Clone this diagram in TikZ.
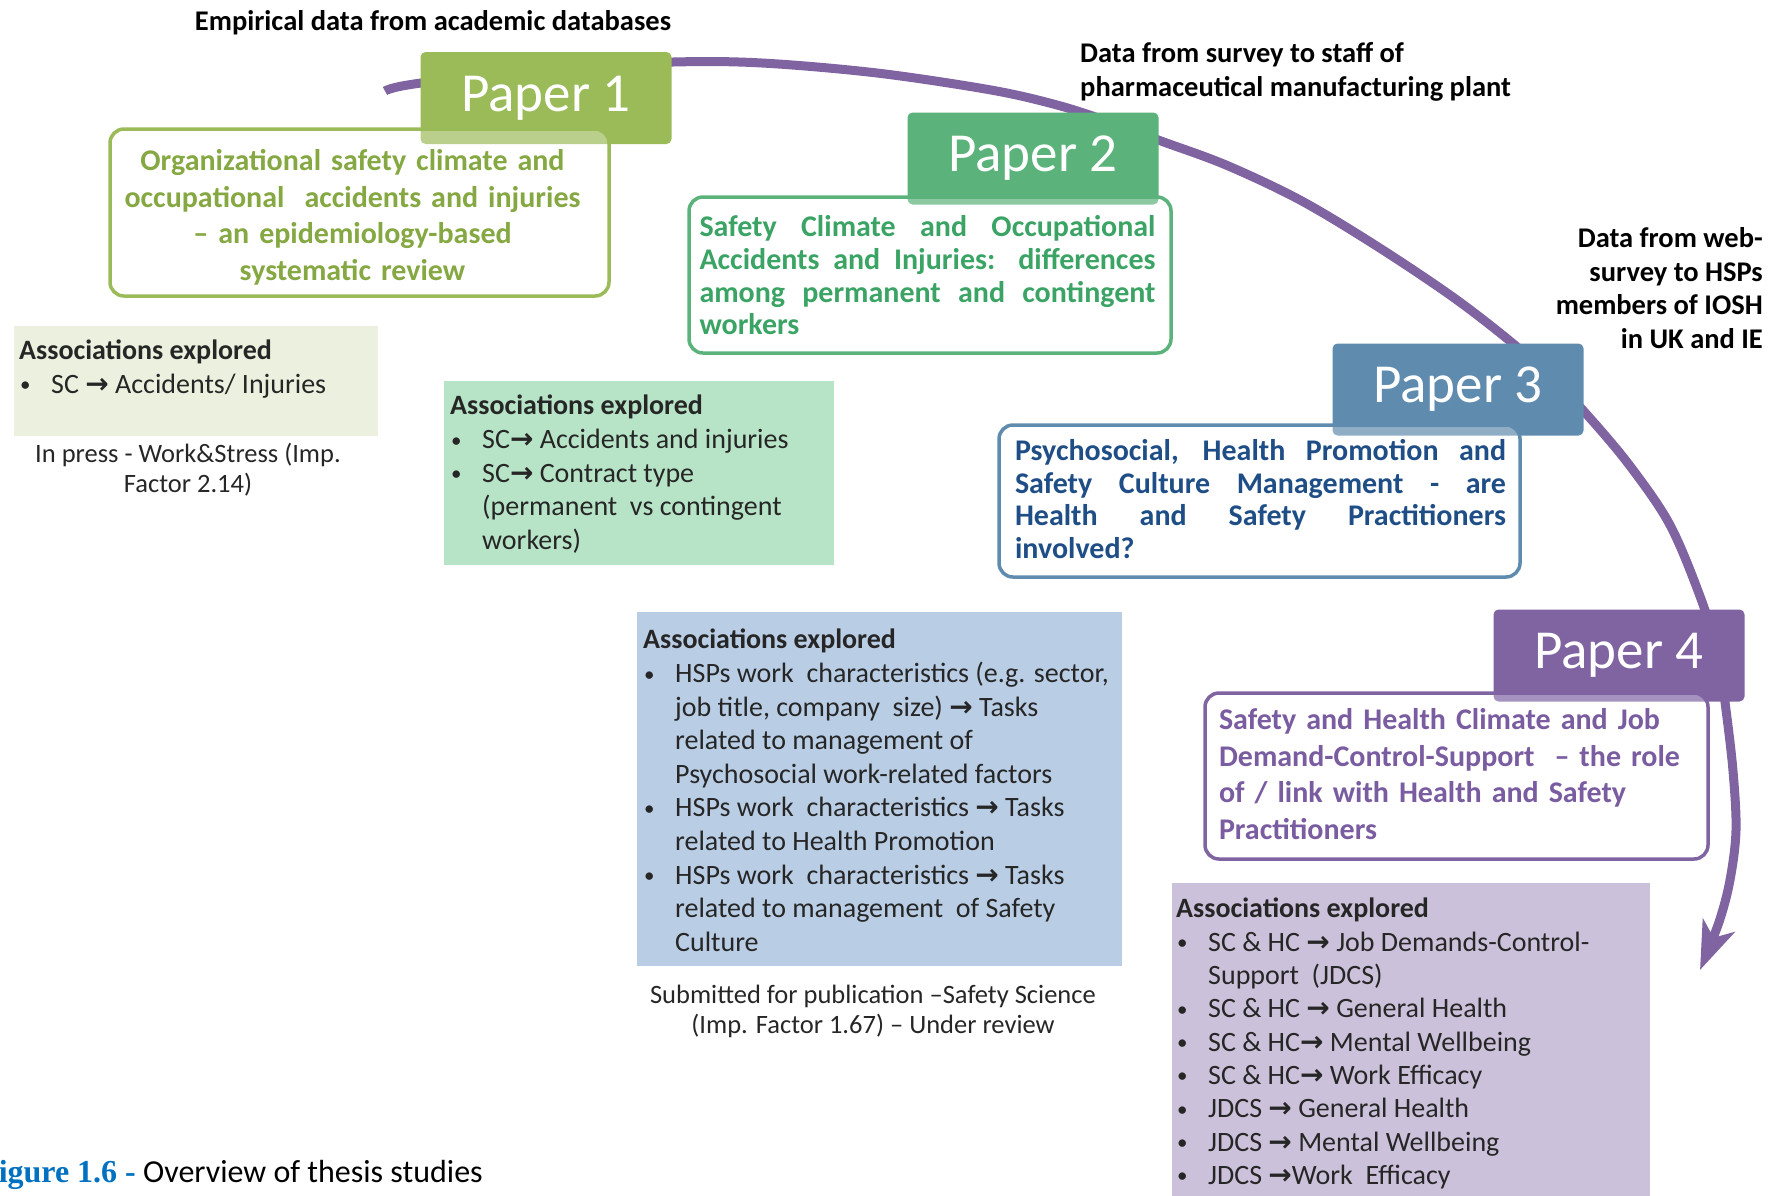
\documentclass[tikz,border=0pt]{standalone}
\usepackage{fontspec}
\setmainfont{Carlito}
\newfontfamily\arrowfont{DejaVu Sans}
\newfontfamily\capfont{Liberation Serif}
\usetikzlibrary{arrows.meta,positioning}

\definecolor{pone}{HTML}{9BBB59}
\definecolor{ponetext}{HTML}{86A843}
\definecolor{ptwo}{HTML}{5BB37B}
\definecolor{ptwotext}{HTML}{3BA465}
\definecolor{pthree}{HTML}{5F8CAE}
\definecolor{pthreetext}{HTML}{1F4E86}
\definecolor{pfour}{HTML}{8064A2}
\definecolor{pfourtext}{HTML}{7A5CA0}
\definecolor{aone}{HTML}{EBF1DE}
\definecolor{atwo}{HTML}{B7E4C7}
\definecolor{athree}{HTML}{B9CDE5}
\definecolor{afour}{HTML}{CCC1DA}
\definecolor{capblue}{HTML}{0070C0}
\definecolor{bodygray}{HTML}{262626}

\newcommand{\goesto}{{\arrowfont\bfseries →}}
\newcommand{\bitem}[1]{\makebox[32pt][l]{\hspace{1pt}\raisebox{1.5pt}{\fontsize{21}{21}\selectfont\textbullet}}#1}
\newcommand{\bcont}[1]{\hspace*{32pt}#1}

\tikzset{
	paperbox/.style={fill=#1, text=white, rounded corners=5pt, minimum width=251pt, minimum height=92pt, inner sep=0pt, font=\fontsize{55}{60}\selectfont},
	titlebox/.style={draw=#1, line width=3.5pt, rounded corners=14pt, fill=white, fill opacity=0.3, inner sep=0pt},
	titletext/.style={inner sep=0pt, font=\fontsize{30}{32.7}\selectfont\bfseries},
	assocbox/.style={fill=#1, inner sep=0pt},
	listtext/.style={anchor=north west, inner sep=0pt, align=left, text=bodygray, font=\fontsize{28}{33.6}\selectfont},
	sourcetext/.style={inner sep=0pt, align=center, text=bodygray, font=\fontsize{26.5}{30}\selectfont},
	datatext/.style={inner sep=0pt, font=\fontsize{28.5}{33.4}\selectfont\bfseries},
	cyclearrow/.style={line width=9pt, color=pfour, -{Stealth[length=48pt,width=34pt,inset=13pt]}}
}

\begin{document}
\begin{tikzpicture}[x=1pt,y=-1pt]
	\useasboundingbox (0,0) rectangle (1776,1195);
	
	% the cycle, behind the boxes
	\draw[cyclearrow] plot[smooth, tension=0.55] coordinates {(385,91) (414,84) (545,68) (673,62) (762,63) (877,73) (991,90) (1057,105) (1110,122) (1161,141) (1226,165) (1300,200) (1375,245) (1450,295) (1505,337) (1550,376) (1589,417) (1630,466) (1670,525) (1701,599) (1718,655) (1726,710) (1733,771) (1736,830) (1730,880) (1719,922) (1700,970)};
	
	\node[paperbox=pone] (p1) at (546,98) {Paper 1};
	\node[paperbox=ptwo] (p2) at (1033,158.5) {Paper 2};
	\node[paperbox=pthree] (p3) at (1458,389.5) {Paper 3};
	\node[paperbox=pfour] (p4) at (1619,655.5) {Paper 4};
	
	\node[titlebox=pone, minimum width=499pt, minimum height=167pt] (t1) at (359.5,212.5) {};
	\node[titlebox=ptwo, minimum width=482pt, minimum height=156pt] (t2) at (930,275) {};
	\node[titlebox=pthree, minimum width=521pt, minimum height=152pt] (t3) at (1259.5,501) {};
	\node[titlebox=pfour, minimum width=503pt, minimum height=166pt] (t4) at (1456.5,776) {};
	
	\node[titletext, text=ponetext, text width=475pt, align=center, font=\fontsize{30}{36.5}\selectfont\bfseries] (t1text) at (352.5,217.5) {Organizational safety climate and\\ occupational\ \ accidents and injuries\\ -- an epidemiology-based\\ systematic review};
	\node[titletext, text=ptwotext, text width=456pt, align=justify] (t2text) at (927.5,275.5) {Safety Climate and Occupational\linebreak Accidents and Injuries: differences\linebreak among permanent and contingent\linebreak workers};
	\node[titletext, text=pthreetext, text width=491pt, align=justify] (t3text) at (1260.5,499) {Psychosocial, Health Promotion and\linebreak Safety Culture Management - are\linebreak Health and Safety Practitioners\linebreak involved?};
	\node[titletext, text=pfourtext, text width=475pt, align=left, font=\fontsize{30}{36.4}\selectfont\bfseries] (t4text) at (1456.5,774) {Safety and Health Climate and Job\\ Demand-Control-Support\ \ -- the role\\ of / link with Health and Safety\\ Practitioners};
	
	\node[assocbox=aone, minimum width=364pt, minimum height=110pt] (a1) at (196,381) {};
	\node[assocbox=atwo, minimum width=390pt, minimum height=184pt] (a2) at (639,473) {};
	\node[assocbox=athree, minimum width=485pt, minimum height=354pt] (a3) at (879.5,789) {};
	\node[assocbox=afour, minimum width=478pt, minimum height=317pt] (a4) at (1411,1041.5) {};
	
	\node[listtext] (l1) at (19,340) {\textbf{Associations explored}\\
		\bitem{SC \goesto{} Accidents/ Injuries}};
	\node[listtext] (l2) at (450,395) {\textbf{Associations explored}\\
		\bitem{SC\goesto{} Accidents and injuries}\\
		\bitem{SC\goesto{} Contract type}\\
		\bcont{(permanent\ \ vs contingent}\\
		\bcont{workers)}};
	\node[listtext] (l3) at (643,629) {\textbf{Associations explored}\\
		\bitem{HSPs work\ \ characteristics (e.g. sector,}\\
		\bcont{job title, company\ \ size) \goesto{} Tasks}\\
		\bcont{related to management of}\\
		\bcont{Psychosocial work-related factors}\\
		\bitem{HSPs work\ \ characteristics \goesto{} Tasks}\\
		\bcont{related to Health Promotion}\\
		\bitem{HSPs work\ \ characteristics \goesto{} Tasks}\\
		\bcont{related to management\ \ of Safety}\\
		\bcont{Culture}};
	\node[listtext, font=\fontsize{28}{33.3}\selectfont] (l4) at (1176,898) {\textbf{Associations explored}\\
		\bitem{SC \& HC \goesto{} Job Demands-Control-}\\
		\bcont{Support\ \ (JDCS)}\\
		\bitem{SC \& HC \goesto{} General Health}\\
		\bitem{SC \& HC\goesto{} Mental Wellbeing}\\
		\bitem{SC \& HC\goesto{} Work Efficacy}\\
		\bitem{JDCS \goesto{} General Health}\\
		\bitem{JDCS \goesto{} Mental Wellbeing}\\
		\bitem{JDCS \goesto{}Work\ \ Efficacy}};
	
	\node[sourcetext] (s1) at (188,470) {In press - Work\&Stress (Imp.\\ Factor 2.14)};
	\node[sourcetext] (s3) at (873,1011) {Submitted for publication --Safety Science\\ (Imp. Factor 1.67) -- Under review};
	
	\node[datatext] (d1) at (433,23) {Empirical data from academic databases};
	\node[datatext, anchor=west, align=left] (d2) at (1080,72) {Data from survey to staff of\\ pharmaceutical manufacturing plant};
	\node[datatext, anchor=east, align=right] (d3) at (1763,288) {Data from web-\\ survey to HSPs\\ members of IOSH\\ in UK and IE};
	
	\node[anchor=base west, inner sep=0pt, font=\fontsize{32}{36}\selectfont] (cap) at (-21,1182) {{\capfont\bfseries\color{capblue}Figure 1.6 -} Overview of thesis studies};
\end{tikzpicture}
\end{document}
